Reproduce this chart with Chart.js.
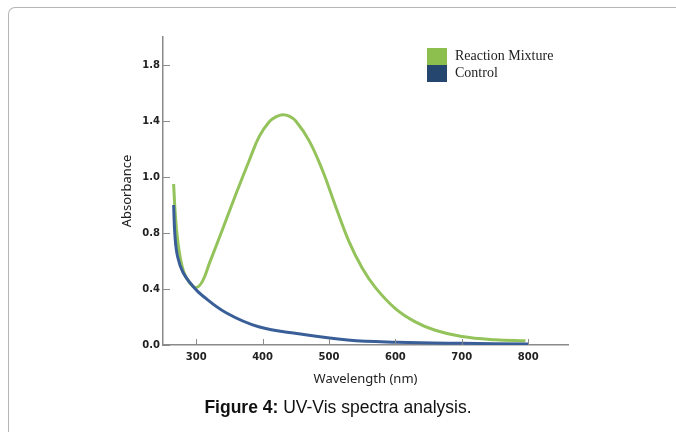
<!DOCTYPE html>
<html>
<head>
<meta charset="utf-8">
<script src="https://cdn.jsdelivr.net/npm/chart.js@4.4.0/dist/chart.umd.min.js"></script>
<style>
  html, body { margin: 0; padding: 0; background: #fff; }
  #wrap { position: relative; width: 676px; height: 432px; overflow: hidden; }
  #frame { position: absolute; left: 8px; top: 7px; width: 700px; height: 460px;
           border-left: 1.5px solid #b5b5b5; border-top: 1.5px solid #b5b5b5; border-top-left-radius: 7px; }
  canvas { position: absolute; left: 0; top: 0; }
  #caption { position: absolute; left: 0; width: 676px; top: 397px; text-align: center;
             font-family: "Liberation Sans", Arial, sans-serif; font-size: 17.5px; color: #111; }
</style>
</head>
<body>
<div id="wrap">
  <div id="frame"></div>
  <canvas id="chart" width="676" height="432"></canvas>
  <div id="caption"><b>Figure 4:</b> UV-Vis spectra analysis.</div>
</div>
<script>
// y values are in the figure's plotted positions; the printed tick labels are uneven (0.8 -> 1.0)
var yTickPos = [0, 0.4, 0.8, 1.2, 1.6, 2.0];
var yTickLabels = ["0.0", "0.4", "0.8", "1.0", "1.4", "1.8"];
var xTicks = [300, 400, 500, 600, 700, 800];

var mixWavelength = [266, 269, 274, 281, 290, 300, 310, 320, 340, 360, 380, 395, 410, 420, 430, 440, 450, 470, 490, 510, 530, 550, 570, 600, 630, 660, 700, 750, 796];
var mixAbsorb     = [1.15, 0.90, 0.68, 0.525, 0.445, 0.41, 0.46, 0.585, 0.83, 1.08, 1.32, 1.49, 1.595, 1.63, 1.645, 1.635, 1.6, 1.46, 1.25, 0.99, 0.74, 0.55, 0.41, 0.26, 0.165, 0.105, 0.06, 0.037, 0.03];

var ctrlWavelength = [266, 268, 272, 280, 295, 310, 345, 394, 454, 528, 603, 700, 800];
var ctrlAbsorb     = [1.0, 0.78, 0.63, 0.52, 0.42, 0.35, 0.23, 0.13, 0.08, 0.036, 0.02, 0.012, 0.008];

function toPoints(xs, ys) {
  return xs.map(function (x, i) { return { x: x, y: ys[i] }; });
}

var greenLine = "#93c35a";
var blueLine = "#3a5f98";
var greenKey = "#8dbf4e";
var blueKey = "#25476f";

// short tick marks drawn inside the plot, plus the legend box
var extras = {
  id: "extras",
  afterDraw: function (chart) {
    var ctx = chart.ctx;
    var xs = chart.scales.x, ys = chart.scales.y;
    ctx.save();
    ctx.strokeStyle = "#8a8a8a";
    ctx.lineWidth = 1;
    ys.ticks.forEach(function (t) {
      var py = Math.round(ys.getPixelForValue(t.value)) + 0.5;
      ctx.beginPath(); ctx.moveTo(xs.left, py); ctx.lineTo(xs.left + 7, py); ctx.stroke();
    });
    xs.ticks.forEach(function (t) {
      var px = Math.round(xs.getPixelForValue(t.value)) + 0.5;
      ctx.beginPath(); ctx.moveTo(px, ys.bottom); ctx.lineTo(px, ys.bottom - 6); ctx.stroke();
    });

    var keys = [
      { text: "Reaction Mixture", color: greenKey },
      { text: "Control", color: blueKey }
    ];
    ctx.font = "14px 'Liberation Serif', serif";
    ctx.textBaseline = "alphabetic";
    keys.forEach(function (k, i) {
      ctx.fillStyle = k.color;
      ctx.fillRect(427, 48 + i * 17, 20, 17);
      ctx.fillStyle = "#222";
      ctx.fillText(k.text, 455, 60 + i * 17);
    });
    ctx.restore();
  }
};

new Chart(document.getElementById("chart"), {
  type: "line",
  data: {
    datasets: [
      {
        label: "Reaction Mixture",
        data: toPoints(mixWavelength, mixAbsorb),
        borderColor: greenLine,
        borderWidth: 3,
        pointRadius: 0,
        tension: 0.4,
        fill: false,
        order: 1
      },
      {
        label: "Control",
        data: toPoints(ctrlWavelength, ctrlAbsorb),
        borderColor: blueLine,
        borderWidth: 3,
        pointRadius: 0,
        tension: 0.4,
        fill: false,
        order: 0
      }
    ]
  },
  options: {
    responsive: false,
    animation: false,
    layout: { padding: { left: 118, top: 37, right: 108, bottom: 40 } },
    plugins: { legend: { display: false }, tooltip: { enabled: false } },
    scales: {
      x: {
        type: "linear",
        min: 250,
        max: 860,
        afterBuildTicks: function (s) { s.ticks = xTicks.map(function (v) { return { value: v }; }); },
        afterFit: function (s) { s.height = 432 - 40 - 345; },
        grid: { drawOnChartArea: false, drawTicks: false },
        border: { display: true, color: "#8a8a8a", width: 1.5 },
        ticks: {
          padding: 6,
          color: "#222",
          font: { family: "DejaVu Sans", size: 10, weight: "bold" }
        },
        title: {
          display: true,
          text: "Wavelength (nm)",
          color: "#222",
          font: { family: "Noto Sans", size: 13 },
          padding: { top: 0, bottom: 5 }
        }
      },
      y: {
        type: "linear",
        min: 0,
        max: 2.2,
        afterBuildTicks: function (s) { s.ticks = yTickPos.map(function (v) { return { value: v }; }); },
        afterFit: function (s) { s.width = 163 - 118; },
        grid: { drawOnChartArea: false, drawTicks: false },
        border: { display: true, color: "#8a8a8a", width: 1.5 },
        ticks: {
          padding: 3,
          color: "#222",
          font: { family: "DejaVu Sans", size: 10, weight: "bold" },
          callback: function (v, i) { return yTickLabels[i]; }
        },
        title: {
          display: true,
          text: "Absorbance",
          color: "#222",
          font: { family: "Noto Sans", size: 13 },
          padding: { top: 1, bottom: 0 }
        }
      }
    }
  },
  plugins: [extras]
});
</script>
</body>
</html>
